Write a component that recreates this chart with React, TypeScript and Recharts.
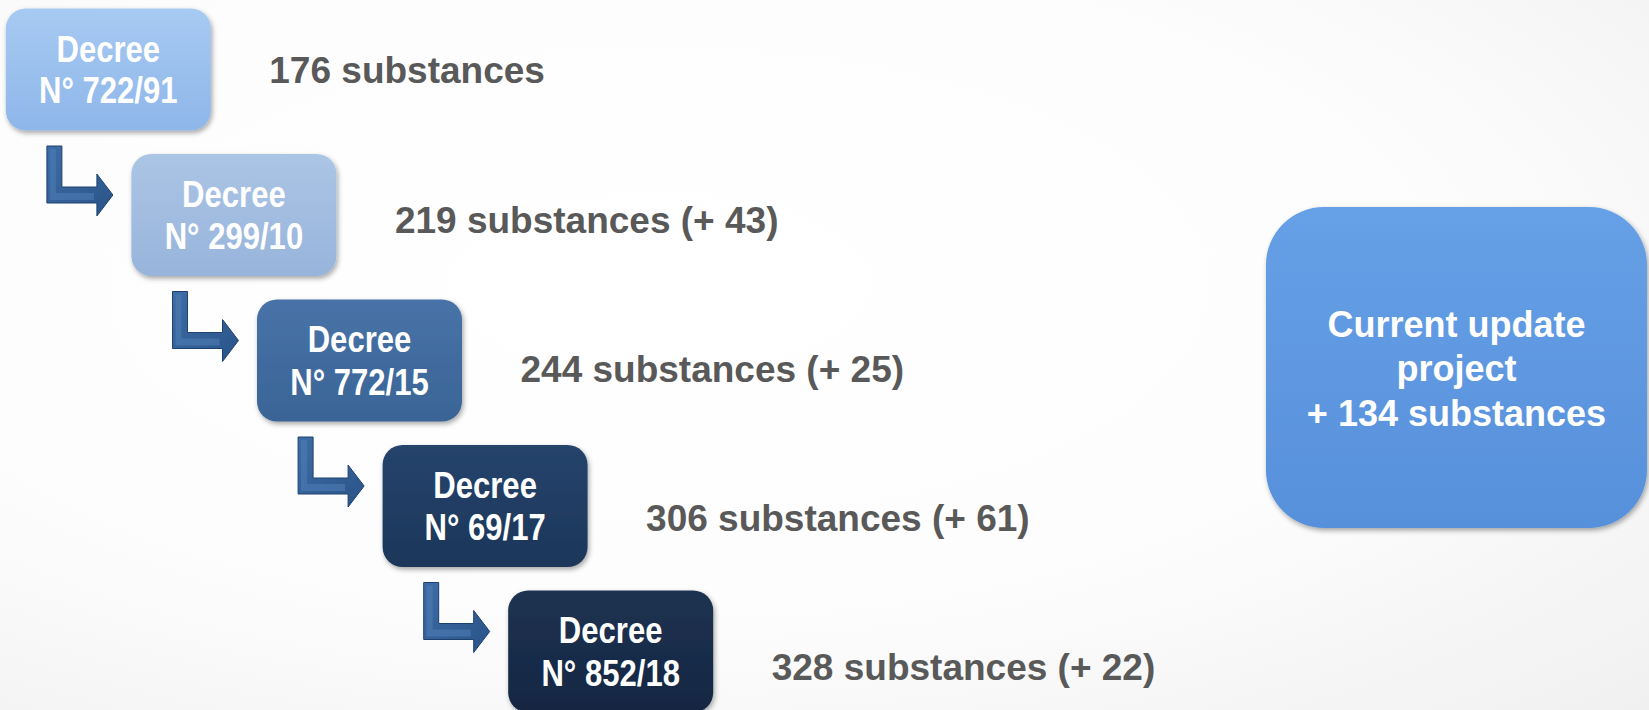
import React from 'react';
import { ScatterChart, Scatter, XAxis, YAxis } from 'recharts';

// ---- data ----
const decreeNumbers = ['N° 722/91', 'N° 299/10', 'N° 772/15', 'N° 69/17', 'N° 852/18'];
const totalSubstances = [176, 219, 244, 306, 328];
const addedSubstances: (number | null)[] = [null, 43, 25, 61, 22];
const projectTitle = ['Current update', 'project'];
const projectAdded = 134;

// ---- layout / style constants ----
const W = 1649;
const H = 710;
const X_DOMAIN: [number, number] = [-0.8623, 12.267];
const Y_DOMAIN: [number, number] = [-0.4777, 4.402];
const LABEL_Y_DOMAIN: [number, number] = [-0.4728, 4.289];
const PROJECT_AT = { x: 10.734, y: 2.048 };
const BOX_GRADS = [
  ['#A7CAF2', '#8EB6E9'],
  ['#ABC5E5', '#98B4DB'],
  ['#4873A8', '#3A6496'],
  ['#25446C', '#1C3659'],
  ['#1D3251', '#152742'],
];
const FONT = '"Liberation Sans", Arial, sans-serif';

const steps = decreeNumbers.map((d, i) => ({
  x: i,
  y: i,
  i,
  decree: d,
  total: totalSubstances[i],
  added: addedSubstances[i],
}));

const BoxShape = (props: any) => {
  const { cx, cy, payload } = props;
  const w = 205;
  const h = 122;
  return (
    <g>
      <rect
        x={cx - w / 2}
        y={cy - h / 2}
        width={w}
        height={h}
        rx={20}
        ry={20}
        fill={`url(#boxGrad${payload.i})`}
        filter="url(#boxShadow)"
      />
      <g transform={`translate(${cx},0) scale(0.84,1)`}>
        <text x={0} y={cy - 8} textAnchor="middle" fill="#FFFFFF" fontSize={37} fontWeight={700} fontFamily={FONT}>
          Decree
        </text>
        <text x={0} y={cy + 34} textAnchor="middle" fill="#FFFFFF" fontSize={37} fontWeight={700} fontFamily={FONT}>
          {payload.decree}
        </text>
      </g>
    </g>
  );
};

const ArrowShape = (props: any) => {
  const { cx, cy } = props;
  const p = (dx: number, dy: number) => `${cx + dx},${cy + dy}`;
  const d = `M${p(-187, -69)} L${p(-172, -69)} L${p(-172, -28)} L${p(-137, -28)} L${p(-137, -41)} L${p(-121, -20)} L${p(-137, 1)} L${p(-137, -12)} L${p(-187, -12)} Z`;
  const hl = `M${p(-184, -66)} L${p(-178, -66)} L${p(-178, -22)} L${p(-140, -22)} L${p(-140, -15)} L${p(-184, -15)} Z`;
  return (
    <g>
      <path d={d} fill="url(#arrowGrad)" stroke="#1E4270" strokeWidth={1} />
      <path d={hl} fill="#4F7DB6" opacity={0.55} />
    </g>
  );
};

const LabelShape = (props: any) => {
  const { cx, cy, payload } = props;
  const txt = payload.added == null
    ? `${payload.total} substances`
    : `${payload.total} substances (+ ${payload.added})`;
  return (
    <text x={cx + 161} y={cy + 13} fill="#595959" fontSize={37} fontWeight={700} fontFamily={FONT}>
      {txt}
    </text>
  );
};

const ProjectShape = (props: any) => {
  const { cx, cy } = props;
  const w = 381;
  const h = 321;
  const lines = [...projectTitle, `+ ${projectAdded} substances`];
  const offs = [-30, 14, 59];
  return (
    <g>
      <rect
        x={cx - w / 2}
        y={cy - h / 2}
        width={w}
        height={h}
        rx={58}
        ry={58}
        fill="url(#projGrad)"
        filter="url(#boxShadow)"
      />
      {lines.map((l, k) => (
        <text key={k} x={cx} y={cy + offs[k]} textAnchor="middle" fill="#FFFFFF" fontSize={36} fontWeight={700} fontFamily={FONT}>
          {l}
        </text>
      ))}
    </g>
  );
};

export default function App() {
  return (
    <div
      style={{
        position: 'absolute',
        left: 0,
        top: 0,
        width: W,
        height: H,
        background: 'radial-gradient(ellipse at 40% 40%, #ffffff 0%, #fdfdfd 55%, #f0f0f0 100%)',
      }}
    >
      <svg width={0} height={0} style={{ position: 'absolute' }}>
        <defs>
          {BOX_GRADS.map((g, i) => (
            <linearGradient key={i} id={`boxGrad${i}`} x1="0" y1="0" x2="0" y2="1">
              <stop offset="0%" stopColor={g[0]} />
              <stop offset="100%" stopColor={g[1]} />
            </linearGradient>
          ))}
          <linearGradient id="projGrad" x1="0" y1="0" x2="0" y2="1">
            <stop offset="0%" stopColor="#66A0E6" />
            <stop offset="100%" stopColor="#5790DB" />
          </linearGradient>
          <linearGradient id="arrowGrad" x1="0" y1="0" x2="1" y2="1">
            <stop offset="0%" stopColor="#3E6CA6" />
            <stop offset="100%" stopColor="#2A5488" />
          </linearGradient>
          <filter id="boxShadow" x="-10%" y="-10%" width="130%" height="130%">
            <feDropShadow dx="1.5" dy="2.5" stdDeviation="2.5" floodColor="#000000" floodOpacity="0.35" />
          </filter>
        </defs>
      </svg>
      <ScatterChart width={W} height={H} margin={{ top: 0, right: 0, bottom: 0, left: 0 }}>
        <XAxis type="number" dataKey="x" domain={X_DOMAIN} allowDataOverflow hide />
        <YAxis type="number" dataKey="y" domain={Y_DOMAIN} allowDataOverflow reversed hide />
        <YAxis yAxisId="labels" type="number" dataKey="y" domain={LABEL_Y_DOMAIN} allowDataOverflow reversed hide />
        <Scatter data={steps.slice(1)} shape={ArrowShape} isAnimationActive={false} />
        <Scatter data={steps} shape={BoxShape} isAnimationActive={false} />
        <Scatter data={steps} yAxisId="labels" shape={LabelShape} isAnimationActive={false} />
        <Scatter data={[PROJECT_AT]} shape={ProjectShape} isAnimationActive={false} />
      </ScatterChart>
    </div>
  );
}
